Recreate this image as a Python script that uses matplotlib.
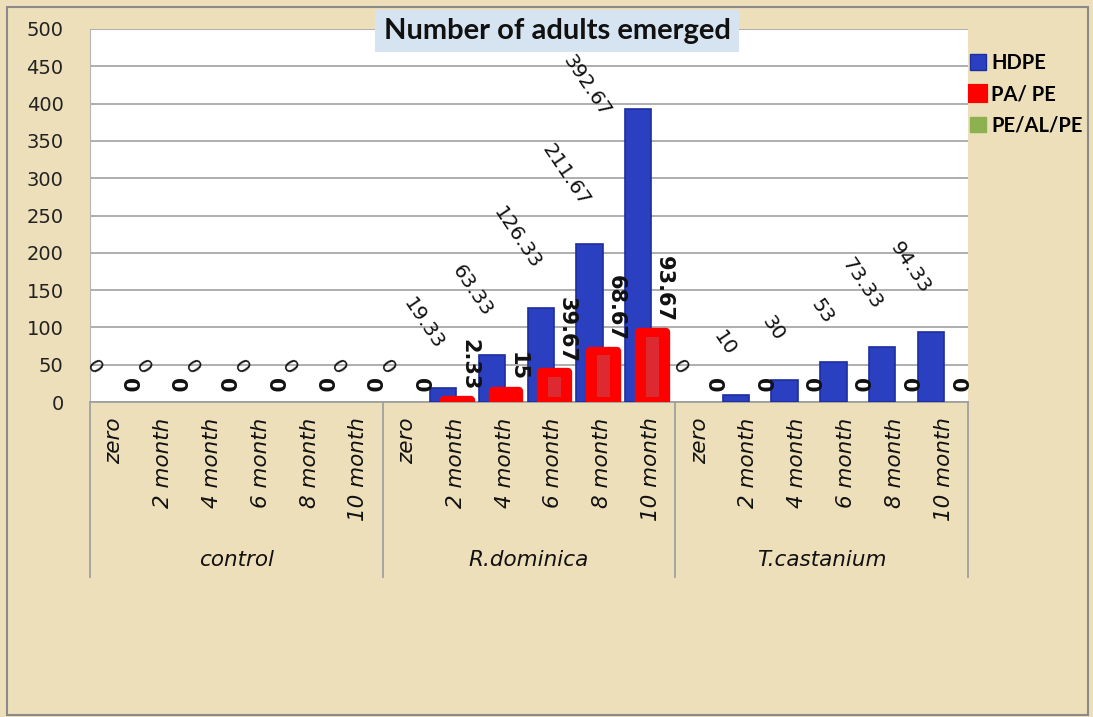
"""Number of adults emerged: bar chart recreated with matplotlib."""
import matplotlib
matplotlib.use('Agg')
import matplotlib.pyplot as plt
from matplotlib.patches import Patch, Rectangle

# --- data -------------------------------------------------------------------
groups = ['control', 'R.dominica', 'T.castanium']
months = ['zero', '2 month', '4 month', '6 month', '8 month', '10 month']

hdpe = [0, 0, 0, 0, 0, 0,
        0, 19.33, 63.33, 126.33, 211.67, 392.67,
        0, 10, 30, 53, 73.33, 94.33]
pa_pe = [0, 0, 0, 0, 0, 0,
         0, 2.33, 15, 39.67, 68.67, 93.67,
         0, 0, 0, 0, 0, 0]
pe_al_pe = [0] * 18

series_names = ['HDPE', 'PA/ PE', 'PE/AL/PE']

# --- style ------------------------------------------------------------------
W, H = 1093, 717
PAPER = '#eedfbb'
BLUE, BLUE_EDGE = '#2a40c0', '#1c2d9e'
RED, RED_INNER = '#ff0000', '#dc2a30'
GREEN = '#8db050'
GRID = '#a8a8a8'

fig = plt.figure(figsize=(W / 100, H / 100), dpi=100, facecolor=PAPER)
ax = fig.add_axes([90 / W, (H - 402) / H, 878 / W, 373 / H])
ax.set_facecolor('white')

n = len(hdpe)
xs = list(range(n))

# bars (zero bars get no outline so they stay invisible, as in Excel)
blue = ax.bar([x - 0.26 for x in xs], hdpe, width=0.54, color=BLUE,
              edgecolor=BLUE_EDGE, linewidth=1.2, zorder=3)
red = ax.bar([x + 0.03 for x in xs], pa_pe, width=0.55, color=RED,
             edgecolor=RED, linewidth=6, zorder=4)
for b, v in zip(blue, hdpe):
    if v == 0:
        b.set_linewidth(0)
for r, v in zip(red, pa_pe):
    r.set_joinstyle('round')
    if v == 0:
        r.set_linewidth(0)
# lighter core of the red bars
for x, v in zip(xs, pa_pe):
    if v > 30:
        ax.bar(x + 0.03, v - 13, bottom=7, width=0.27, color=RED_INNER,
               linewidth=0, zorder=5)
ax.bar([x + 0.3 for x in xs], pe_al_pe, width=0.3, color=GREEN,
       linewidth=0, zorder=3)

# data labels: HDPE slanted, PA/PE vertical bold
for x, v in zip(xs, hdpe):
    txt = f'{v:g}'
    y = min(v, 331)
    dx = 0.08 if v <= 331 else -0.5
    lift = 17 if len(txt) == 1 else 25   # short labels sit closer to the bar
    ax.annotate(txt, (x - 0.26 + dx, y), xytext=(0, lift),
                textcoords='offset points', rotation=-56,
                ha='right', va='bottom', fontsize=14.5, color='#111111',
                zorder=6, annotation_clip=False)
for x, v in zip(xs, pa_pe):
    ax.annotate(f'{v:g}', (x + 0.27, v), xytext=(0, 7),
                textcoords='offset points', rotation=-90,
                ha='center', va='bottom', fontsize=15, fontweight='bold',
                color='#111111', zorder=6, annotation_clip=False)

# axes
ax.set_xlim(-0.5, n - 0.5)
ax.set_ylim(0, 500)
ax.set_yticks(range(0, 501, 50))
ax.yaxis.grid(True, color=GRID, linewidth=1.3)
ax.set_axisbelow(True)
ax.tick_params(axis='y', length=0, pad=19, labelsize=14, labelcolor='#222222')
ax.set_xticks(xs)
ax.set_xticklabels(months * len(groups), rotation=90, fontstyle='italic',
                   fontsize=15.5, color='#111111')
ax.tick_params(axis='x', length=0, pad=11)
for s in ('top', 'right'):
    ax.spines[s].set_visible(False)
ax.spines['left'].set_color('#b4b4b4')
ax.spines['bottom'].set_color('#a0a0a0')
ax.spines['bottom'].set_linewidth(1.3)

# group separators and names under the category axis
xt = ax.get_xaxis_transform()
for k in range(len(groups) + 1):
    gx = k * len(months) - 0.5
    ax.plot([gx, gx], [0, -0.469], transform=xt, clip_on=False,
            color='#a0a0a0', linewidth=1.3)
for k, g in enumerate(groups):
    ax.text(k * len(months) + 2.5, -0.424, g, transform=xt, ha='center',
            va='center', fontstyle='italic', fontsize=15.5, color='#111111')

# title
fig.text(557 / W, 1 - 31 / H, 'Number of adults emerged', ha='center',
         va='center', fontsize=21, fontweight='bold', family='Lato',
         color='#111111',
         bbox=dict(boxstyle='square,pad=0.28', facecolor='#d6e4f1',
                   edgecolor='none'), zorder=10)

# legend
handles = [Patch(facecolor=BLUE, edgecolor=BLUE_EDGE),
           Patch(facecolor=RED, edgecolor=RED, linewidth=3, joinstyle='round'),
           Patch(facecolor=GREEN, edgecolor=GREEN)]
fig.legend(handles, series_names, loc='upper left',
           bbox_to_anchor=(952 / W, 1 - 35 / H), frameon=False,
           handlelength=0.8, handleheight=0.8, handletextpad=0.25,
           labelspacing=0.55,
           prop=dict(family='Lato', weight='bold', size=14.5))

# outer frame
fig.add_artist(Rectangle((7 / W, 2 / H), 1081 / W, 708 / H,
                         transform=fig.transFigure, fill=False,
                         edgecolor='#8a8a8a', linewidth=1.5))

fig.savefig('out.png', dpi=100, facecolor=PAPER)
